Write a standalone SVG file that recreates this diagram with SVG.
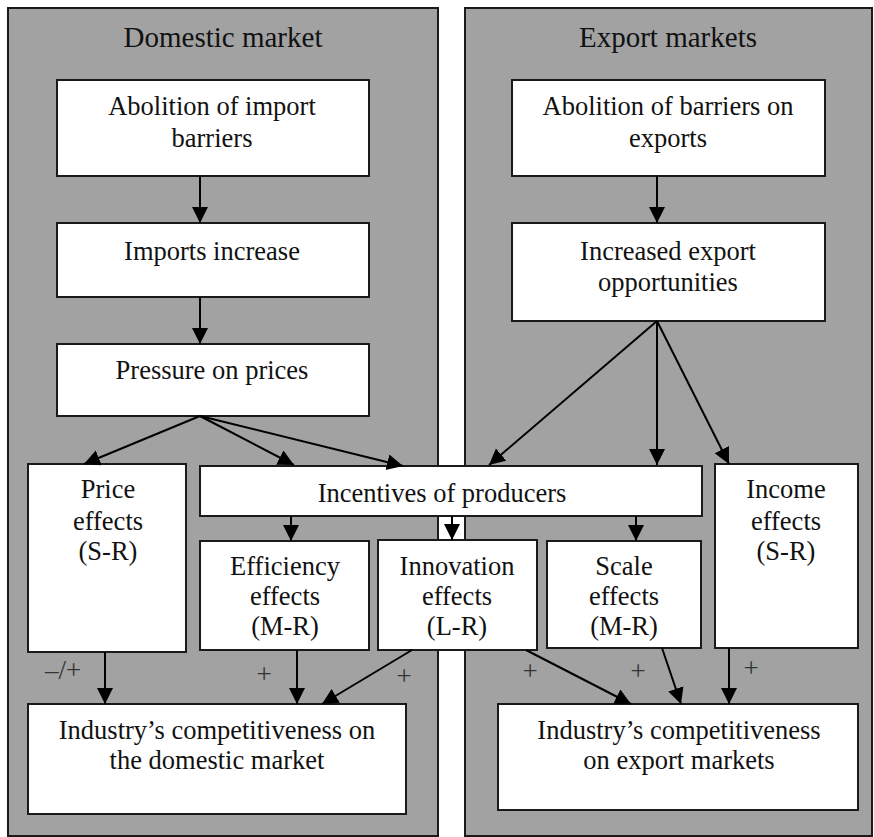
<svg xmlns="http://www.w3.org/2000/svg" width="874" height="837" viewBox="0 0 874 837">
  <style>
    .panel { fill: #a2a2a2; stroke: #1a1a1a; stroke-width: 2; }
    .box { fill: #ffffff; stroke: #1a1a1a; stroke-width: 2; }
    .title { font-family: "Liberation Serif", "Times New Roman", serif; font-size: 29px; fill: #111; text-anchor: middle; }
    .lbl { font-family: "Liberation Serif", "Times New Roman", serif; font-size: 26.5px; fill: #111; text-anchor: middle; }
    .sign { font-family: "Liberation Serif", "Times New Roman", serif; font-size: 27px; fill: #333333; text-anchor: middle; }
    .edge { stroke: #000; stroke-width: 2; fill: none; marker-end: url(#arrow); }
  </style>
  <defs>
    <marker id="arrow" markerUnits="userSpaceOnUse" markerWidth="17" markerHeight="17" viewBox="0 0 17 17" refX="16" refY="8" orient="auto">
      <path d="M0,0 L16,8 L0,16 z" fill="#000"/>
    </marker>
  </defs>

  <rect width="874" height="837" fill="#ffffff"/>

  <!-- market panels -->
  <g id="panel-domestic">
    <rect class="panel" x="8" y="8" width="430" height="828"/>
    <text class="title" x="223" y="47">Domestic market</text>
  </g>
  <g id="panel-export">
    <rect class="panel" x="465" y="8" width="407" height="828"/>
    <text class="title" x="668" y="47">Export markets</text>
  </g>

  <!-- domestic chain -->
  <g id="abolition-import">
    <rect class="box" x="57" y="80" width="312" height="96"/>
    <text class="lbl" x="212" y="115">Abolition of import</text>
    <text class="lbl" x="212" y="147">barriers</text>
  </g>
  <g id="imports-increase">
    <rect class="box" x="57" y="223" width="312" height="74"/>
    <text class="lbl" x="212" y="260">Imports increase</text>
  </g>
  <g id="pressure-prices">
    <rect class="box" x="57" y="344" width="312" height="72"/>
    <text class="lbl" x="212" y="379">Pressure on prices</text>
  </g>

  <!-- export chain -->
  <g id="abolition-export">
    <rect class="box" x="512" y="80" width="313" height="96"/>
    <text class="lbl" x="668" y="115">Abolition of barriers on</text>
    <text class="lbl" x="668" y="147">exports</text>
  </g>
  <g id="export-opportunities">
    <rect class="box" x="512" y="223" width="313" height="98"/>
    <text class="lbl" x="668" y="260">Increased export</text>
    <text class="lbl" x="668" y="291">opportunities</text>
  </g>

  <!-- effects -->
  <g id="price-effects">
    <rect class="box" x="28" y="464" width="158" height="188"/>
    <text class="lbl" x="108" y="498">Price</text>
    <text class="lbl" x="108" y="530">effects</text>
    <text class="lbl" x="108" y="560">(S-R)</text>
  </g>
  <g id="incentives">
    <rect class="box" x="200" y="466" width="502" height="50"/>
    <text class="lbl" x="442" y="502">Incentives of producers</text>
  </g>
  <g id="efficiency-effects">
    <rect class="box" x="200" y="541" width="169" height="109"/>
    <text class="lbl" x="285" y="575">Efficiency</text>
    <text class="lbl" x="285" y="605">effects</text>
    <text class="lbl" x="285" y="635">(M-R)</text>
  </g>
  <g id="innovation-effects">
    <rect class="box" x="378" y="540" width="159" height="110"/>
    <text class="lbl" x="457" y="575">Innovation</text>
    <text class="lbl" x="457" y="605">effects</text>
    <text class="lbl" x="457" y="635">(L-R)</text>
  </g>
  <g id="scale-effects">
    <rect class="box" x="547" y="541" width="154" height="107"/>
    <text class="lbl" x="624" y="575">Scale</text>
    <text class="lbl" x="624" y="605">effects</text>
    <text class="lbl" x="624" y="635">(M-R)</text>
  </g>
  <g id="income-effects">
    <rect class="box" x="715" y="464" width="143" height="184"/>
    <text class="lbl" x="786" y="498">Income</text>
    <text class="lbl" x="786" y="530">effects</text>
    <text class="lbl" x="786" y="560">(S-R)</text>
  </g>

  <!-- outcomes -->
  <g id="competitiveness-domestic">
    <rect class="box" x="28" y="704" width="378" height="110"/>
    <text class="lbl" x="217" y="739">Industry’s competitiveness on</text>
    <text class="lbl" x="217" y="769">the domestic market</text>
  </g>
  <g id="competitiveness-export">
    <rect class="box" x="498" y="704" width="360" height="106"/>
    <text class="lbl" x="679" y="739">Industry’s competitiveness</text>
    <text class="lbl" x="679" y="769">on export markets</text>
  </g>

  <!-- connectors -->
  <g id="connectors">
    <line class="edge" x1="200" y1="176" x2="200" y2="223"/>
    <line class="edge" x1="200" y1="297" x2="200" y2="344"/>
    <line class="edge" x1="200" y1="416" x2="84" y2="464"/>
    <line class="edge" x1="200" y1="416" x2="294" y2="465"/>
    <line class="edge" x1="200" y1="416" x2="403" y2="466"/>

    <line class="edge" x1="657" y1="176" x2="657" y2="223"/>
    <line class="edge" x1="657" y1="321" x2="489" y2="465"/>
    <line class="edge" x1="657" y1="321" x2="657" y2="465"/>
    <line class="edge" x1="657" y1="321" x2="729" y2="464"/>

    <line class="edge" x1="291" y1="516" x2="291" y2="541"/>
    <line class="edge" x1="452" y1="516" x2="452" y2="540"/>
    <line class="edge" x1="636" y1="516" x2="636" y2="541"/>

    <line class="edge" x1="105" y1="652" x2="105" y2="704"/>
    <line class="edge" x1="297" y1="650" x2="297" y2="704"/>
    <line class="edge" x1="412" y1="650" x2="322" y2="704"/>

    <line class="edge" x1="526" y1="650" x2="631" y2="704"/>
    <line class="edge" x1="662" y1="648" x2="681" y2="704"/>
    <line class="edge" x1="729" y1="648" x2="729" y2="704"/>
  </g>

  <!-- effect signs -->
  <g id="signs">
    <text class="sign" x="63" y="679">–/+</text>
    <text class="sign" x="264" y="683">+</text>
    <text class="sign" x="404" y="685">+</text>
    <text class="sign" x="530" y="680">+</text>
    <text class="sign" x="638" y="680">+</text>
    <text class="sign" x="751" y="677">+</text>
  </g>
</svg>
